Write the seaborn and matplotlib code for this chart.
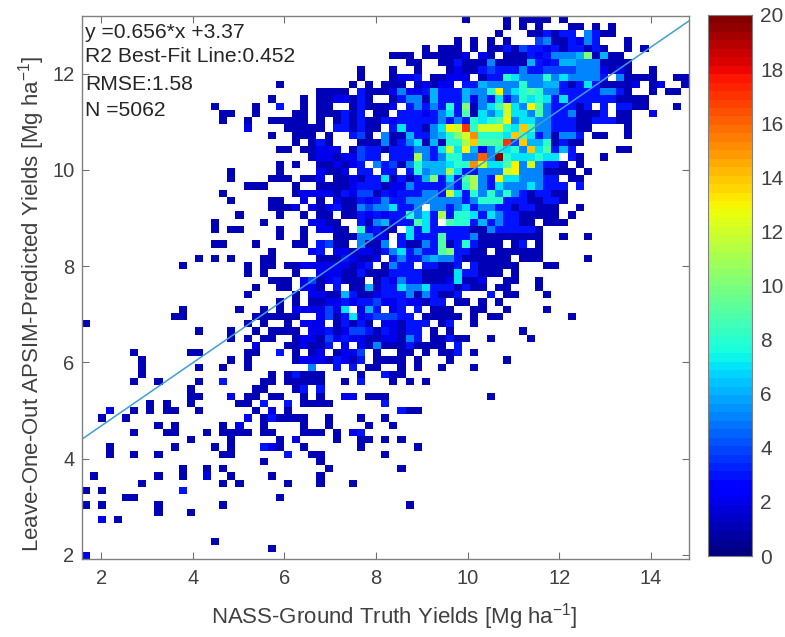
import numpy as np
import matplotlib
matplotlib.use('Agg')
import matplotlib.pyplot as plt
import seaborn as sns

# axis limits of the histogram and the fit printed on the chart
x_limits = [1.57, 14.83]
y_limits = [1.91, 13.21]
x_ticks = [2, 4, 6, 8, 10, 12, 14]
y_ticks = [2, 4, 6, 8, 10, 12]
cbar_ticks = [0, 2, 4, 6, 8, 10, 12, 14, 16, 18, 20]
fit_slope = 0.656
fit_intercept = 3.37
notes = ['y =0.656*x +3.37', 'R2 Best-Fit Line:0.452', 'RMSE:1.58', 'N =5062']

# bin counts, top row first. . = 0, 1-9, a = 10 ... k = 20
rows = [
    "..... ..... ..... ..... ..... ..... ..... ..... ..... ..1.. ..1.1 111.1 ..... ..... .....",
    "..... ..... ..... ..... ..... ..... ..... ..... ..... ..... ..1.1 .1... 11.1. 1.... .....",
    "..... ..... ..... ..... ..... ..... ..... ..... ..... ..... .1... 11313 3.531 1.... .....",
    "..... ..... ..... ..... ..... ..... ..... ..... ..... .1.1. 1.1.. .4511 3253. ..1.. .....",
    "..... ..... ..... ..... ..... ..... ..... ..... ..1.1 11.1. 11314 33231 33131 ..1.1 .....",
    "..... ..... ..... ..... ..... ..... ..... ...11 1.111 112.2 1.111 32355 56a16 11... .....",
    "..... ..... ..... ..... ..... ..... ..... ..... 11..1 13111 51111 63236 65551 111.. .....",
    "..... ..... ..... ..... ..... ..... ....1 ...1. .1... 12113 43335 33444 45552 121.. 1....",
    "..... ..... ..... ..... ..... ..... ....1 ...12 23.11 222.1 33875 55857 55553 .5111 1..11",
    "..... ..... ..... ..... ....1 ..... ...1. 1.111 .1212 2.336 55558 55663 13731 1112. 12..1",
    "..... ..... ..... ..... ..... ....1 111.3 11125 22363 33655 8d578 98553 33335 531.. 1.11.",
    "..... ..... ..... ..... ...1. ..1.1 12213 1..13 55163 33625 37358 78737 33333 31111 .....",
    "..... ..... ..... .1... .1..3 ..1.1 1..13 1112. 35353 83a15 79c75 d9533 313.3 .3311 ...1.",
    "..... ..... ..... ..11. .1... .11.1 11313 .11.3 33235 73917 57c77 59533 51113 .11.. 2....",
    "..... ..... ..... ..1.. 1..11 111.1 .1313 11323 33335 35387 89d57 75533 31133 311.. .....",
    "..... ..... ..... ..... 2.... 11111 .3313 11.37 33157 dch8c cc87e 95533 311.. ..1.. .....",
    "..... ..... ..... ..... ...1. .111. 1..34 1.511 63356 8acf8 887e9 73515 53.11 ..1.. .....",
    "..... ..... ..... ..... ..... .1.13 1...1 11513 57161 88be9 99h4e 66813 11... ..... .....",
    "..... ..... ..... ..... ....1 1.112 22.14 33133 35537 c7d62 58785 e7936 3.... .11.. .....",
    "..... ..... ..... ..... ..... ...12 21224 33.33 3b535 8855g 5k877 7877. 31..1 ..... .....",
    "..... ..... ..... ..... ....1 .1..1 12123 .5341 58666 788fc 779d5 c5331 .1... ..... .....",
    "..... ..... ..... ...1. ....1 ....2 112.3 3.33. 38566 b7335 55cd5 55111 1.1.. ..... .....",
    "..... ..... ..... ...1. ...11 1.112 .1121 33713 136a3 739b5 3d775 5533. 11... ..... .....",
    "..... ..... ..... ..... 111.. .1..1 11123 33122 53333 538b5 37555 75333 .3... ..... .....",
    "..... ..... ..... ..1.. ..... .1222 21324 41323 33553 c7385 85853 13311 ..... ..... .....",
    "..... ..... ..... ...1. ...11 ..2.1 .2113 23533 55555 55358 88333 11331 ..... ..... .....",
    "..... ..... ..... ..... ...11 12.21 23115 45573 35.55 35735 53313 3111. .1... ..... .....",
    "..... ..... ..... ....1 ....1 ..1.1 1.113 23233 8573b 38873 75331 1111. 1.... ..... .....",
    "..... ..... ..... .1... ..1.. ...22 11..3 15623 3973. 98836 35331 1.111 ..... ..... .....",
    "..... ..... ..... .1.11 ....1 ..1.2 211.8 2311. 73733 33311 53333 31... ..... ..... .....",
    "..... ..... ..... ..... ....1 ..1.. .1115 522.3 73339 33351 11111 11..1 ..1.. ..... .....",
    "..... ..... ..... .11.. .1... .11.3 411.5 115.3 11539 13831 11.13 .1... ..... ..... .....",
    "..... ..... ..... ..... ...1. ...23 .2212 21357 35339 a3311 .1111 11... ..... ..... .....",
    "..... ..... ....1 .1.1. ..11. ....1 11321 12.35 33565 53111 111.1 11... ..1.. ..... .....",
    "..... ..... ..1.. ..... 1.11. 11222 22212 3.153 3.331 13.31 1111. ..11. ..... ..... .....",
    "..... ..... ..... ..... 1.1.. .1..2 22113 11133 33111 17331 11.1. ..... ..... ..... .....",
    "..... ..... ..... ..... ...11 1.241 23111 .1325 33111 27112 ..11. .1... ..... ..... .....",
    "..... ..... ..... ..... .1..1 1.221 .3.11 61337 55733 31311 .11.. .1... ..... ..... .....",
    "..... ..... ..... ..... 1.... .1.22 11631 12333 51531 13... 3.11. ..1.. ..... ..... .....",
    "..... ..... ..... ..... ....1 .1.11 22323 34223 22133 .11.1 .1... ..... ..... ..... .....",
    "..... ..... ..1.. ....1 ..1.1 .2222 427.2 63.23 .3.11 1..11 ..1.. ..1.. ..... ..... .....",
    "..... ..... .11.. ..... .1111 11..2 41372 34443 3.111 11.1. 11... ..... 1.... ..... .....",
    "1.... ..... ..... ..... 1.1.. 1.222 .1313 1.221 333.1 3..1. ..... ..... ..... ..... .....",
    "..... ..... ....1 ...1. .1.11 11.22 31244 31321 33.1. 1.... ....1 ..... ..... ..... .....",
    "..... ..... ..... ...1. 1.11. .1221 42322 11221 53.11 311.. 1.... 1.... ..... ..... .....",
    "..... ..... ..... ..... .2... 11211 3.2.2 15111 31111 .3... ..... ..... ..... ..... .....",
    "..... .1... ...11 ..... 11..3 .1.12 .1224 .1..1 1.1.1 13.1. ..... ..... ..... ..... .....",
    "..... ..1.. ..... ...1. 1.... .1222 13213 .1111 .1... 1.... ..1.. ..... ..... ..... .....",
    "..... ..1.. ....1 ..1.. 1.... ...5. .3.3. 11..1 .1..1 ...1. ..... ..... ..... ..... .....",
    "..... ..1.. ..... ..... ...1. 13111 ....1 ..311 ..... ..... ..... ..... ..... ..... .....",
    "..... .1..1 ....1 ..3.. ..11. 11111 ..1.3 ...1. 1.1.. ..... ..... ..... ..... ..... .....",
    "..... ..... ...1. ..... .11.. .13.3 ..... ..... ..... ..... ..... ..... ..... ..... .....",
    "..... ..... ...11 ...2. 11.11 ..1.1 ..22. 111.. ..... ..... 1.... ..... ..... ..... .....",
    "..... ...1. 1..1. ....1 1.3.. 3.111 1.... ..3.. ..... ..... ..... ..... ..... ..... .....",
    "...2. .1.1. 11..1 ..... .1.2. 1.... ..... ....3 11... ..... ..... ..... ..... ..... .....",
    "..1.. 1.... ..... ..... 2.131 111.. 1...1 ..1.. ..... ..... ..... ..... ..... ..... .....",
    "..... ....1 .1... ..1.2 ..1.. ..1.. 1.... 1..1. ..... ..... ..... ..... ..... ..... .....",
    "..... .1... 11... 1.111 1.11. ..111 .1.23 ..... ..... ..... ..... ..... ..... ..... .....",
    "..... ..... ...1. ...1. ....1 .2... .1..1 1.1.1 ..... ..... ..... ..... ..... ..... .....",
    "...1. ..... .1... .1.1. ..321 ..1.. ....1 ..... .1... ..... ..... ..... ..... ..... .....",
    "...1. .1..1 ..... ..11. ..... 3..11 ..... ..1.. ..... ..... ..... ..... ..... ..... .....",
    "..... ..... ..... ..... ..1.. ....1 ..... ..... ..... ..... ..... ..... ..... ..... .....",
    "..... ..... ..1.. 1.1.. ..... ..... 1.... ....1 ..... ..... ..... ..... ..... ..... .....",
    ".1... ....1 ..1.. 2..1. ...1. ....1 ..... ..... ..... ..... ..... ..... ..... ..... .....",
    "..... ..1.. ..... ..1.1 ..... 1...1 ...1. ..... ..... ..... ..... ..... ..... ..... .....",
    "1.1.. ..... ..3.. ..... ..... ..... ..... ..... ..... ..... ..... ..... ..... ..... .....",
    "..... 11... ..... ..... ....1 ..... ..... ..... ..... ..... ..... ..... ..... ..... .....",
    "1.1.. ....1 ..... ..1.. ..... ..... ..... ..... 1.... ..... ..... ..... ..... ..... .....",
    "..... ....1 ...1. ..... ..... ..... ..... ..... ..... ..... ..... ..... ..... ..... .....",
    "..2.1 ..... ..... ..... ..... ..... ..... ..... ..... ..... ..... ..... ..... ..... .....",
    "..... ..... ..... ..... ..... ..... ..... ..... ..... ..... ..... ..... ..... ..... .....",
    "..... ..... ..... ..... ..... ..... ..... ..... ..... ..... ..... ..... ..... ..... .....",
    "..... ..... ..... .1... ..... ..... ..... ..... ..... ..... ..... ..... ..... ..... .....",
    "..... ..... ..... ..... ...1. ..... ..... ..... ..... ..... ..... ..... ..... ..... .....",
    "2.... ..... ..... ..... ..... ..... ..... ..... ..... ..... ..... ..... ..... ..... .....",
]

code = '.123456789abcdefghijk'
counts = np.array([[code.index(ch) for ch in row.replace(' ', '')] for row in rows])

sns.set_style('white')
plt.rcParams['font.family'] = ['Liberation Sans', 'DejaVu Sans']
plt.rcParams['mathtext.default'] = 'regular'
grey = '#404040'

fig = plt.figure(figsize=(7.85, 6.37), dpi=100)
ax = fig.add_axes([81.5 / 785, 1 - 559.3 / 637, 607.5 / 785, 543.8 / 637])
cax = fig.add_axes([708.3 / 785, 1 - 556 / 637, 43.4 / 785, 541 / 637])

sns.heatmap(counts, mask=counts == 0, cmap=plt.get_cmap('jet', 64), vmin=0, vmax=20,
            ax=ax, cbar_ax=cax, xticklabels=False, yticklabels=False,
            cbar_kws={'ticks': cbar_ticks})


# heatmap axes run in cell numbers, so convert from data units
def to_col(x):
    return (np.asarray(x) - x_limits[0]) / (x_limits[1] - x_limits[0]) * counts.shape[1]


def to_row(y):
    return (y_limits[1] - np.asarray(y)) / (y_limits[1] - y_limits[0]) * counts.shape[0]


fit_x = np.array(x_limits)
ax.plot(to_col(fit_x), to_row(fit_slope * fit_x + fit_intercept), color='#3f9fd2', lw=1.1)

ax.set_xticks(to_col(x_ticks))
ax.set_xticklabels(x_ticks)
ax.set_yticks(to_row(y_ticks))
ax.set_yticklabels(y_ticks, rotation=0)
ax.tick_params(direction='in', length=5, width=0.8, color='#707070', labelcolor=grey,
               labelsize=14.5, top=True, right=True, bottom=True, left=True, pad=7)
ax.tick_params(axis='y', pad=5)
for spine in ax.spines.values():
    spine.set_visible(True)
    spine.set_color('#808080')
    spine.set_linewidth(1)

ax.set_xlabel('NASS-Ground Truth Yields [Mg ha$^{-1}$]', fontsize=16, color=grey)
ax.set_ylabel('Leave-One-Out APSIM-Predicted Yields [Mg ha$^{-1}$]', fontsize=16, color=grey)
ax.xaxis.set_label_coords(0.515, -0.077)
ax.yaxis.set_label_coords(-0.056, 0.469)

note_y = [32, 56, 84, 111]
for label, py in zip(notes, note_y):
    fig.text(85 / 785, 1 - py / 637, label, fontsize=15.2, color='#262626', va='center', ha='left')

cax.tick_params(direction='in', length=4, width=0.8, color='#505050', labelcolor=grey,
                labelsize=15, right=True, left=False, pad=6)
for spine in cax.spines.values():
    spine.set_visible(True)
    spine.set_color('#808080')

plt.savefig('out.png', dpi=100)
